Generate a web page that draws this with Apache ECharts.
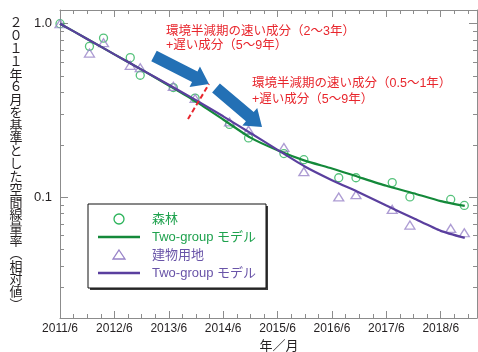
<!DOCTYPE html>
<html>
<head>
<meta charset="utf-8">
<script src="https://cdn.jsdelivr.net/npm/echarts@6/dist/echarts.min.js"></script>
<style>
  html, body { margin: 0; padding: 0; background: #ffffff; }
  #chart { width: 478px; height: 352px; }
</style>
</head>
<body>
<div id="chart"></div>
<script>
// Survey timing in months after June 2011, shared by both land-use groups
const surveyMonths = [0, 6.5, 9.6, 15.5, 17.7, 25, 29.8, 37.4, 41.6, 49.4, 53.8, 61.5, 65.3, 73.3, 77.2, 86.2, 89.2];
// Relative air dose rate (June 2011 = 1)
const forestValues = [1.0, 0.74, 0.826, 0.637, 0.504, 0.428, 0.372, 0.262, 0.219, 0.178, 0.164, 0.129, 0.129, 0.121, 0.100, 0.0967, 0.0893];
const builtValues  = [1.0, 0.677, 0.777, 0.575, 0.557, 0.435, 0.37, 0.271, 0.243, 0.193, 0.14, 0.1, 0.103, 0.0847, 0.0688, 0.0658, 0.0621];

// Two-group model curves
const modelMonths = [0, 6, 12, 18, 24, 30, 36, 42, 48, 54, 60, 66, 72, 78, 84, 89.3];
const forestModel = [1.0, 0.817, 0.665, 0.543, 0.44, 0.355, 0.28, 0.22, 0.186, 0.162, 0.146, 0.130, 0.116, 0.105, 0.0946, 0.0887];
const builtModel  = [1.0, 0.817, 0.665, 0.543, 0.444, 0.362, 0.292, 0.234, 0.187, 0.150, 0.125, 0.106, 0.0891, 0.0753, 0.0637, 0.058];

// Axis ticks
const yearTickMonths = [0, 12, 24, 36, 48, 60, 72, 84];
const yearLabels = ['2011/6', '2012/6', '2013/6', '2014/6', '2015/6', '2016/6', '2017/6', '2018/6'];
const quarterTickMonths = [0, 3, 6, 9, 12, 15, 18, 21, 24, 27, 30, 33, 36, 39, 42, 45, 48, 51, 54, 57, 60, 63, 66, 69, 72, 75, 78, 81, 84, 87, 90];
const yMajorTicks = [0.1, 1];
const yMajorLabels = ['0.1', '1.0'];
const yMinorTicks = [0.02, 0.03, 0.04, 0.05, 0.06, 0.07, 0.08, 0.09, 0.2, 0.3, 0.4, 0.5, 0.6, 0.7, 0.8, 0.9];

const FONT = "'Liberation Sans', 'Noto Sans CJK JP', sans-serif";
const AXIS_GRAY = '#8c8c8c';
const INK = '#231f20';
const GREEN_PT = '#2bb35a';
const GREEN_LINE = '#14893a';
const GREEN_TEXT = '#1fa24e';
const PURPLE_PT = '#9883c8';
const PURPLE_LINE = '#5a3f9e';
const PURPLE_TEXT = '#6954a8';
const RED = '#e8262d';
const BLUE = '#2370b5';

const X_MIN = 0, X_MAX = 92;
const Y_MIN = 0.02, Y_MAX = 1.2;

function xAxisDef(position, ticks, len, main) {
  return {
    type: 'value', position: position, min: X_MIN, max: X_MAX,
    axisLine: { show: main, onZero: false, lineStyle: { color: AXIS_GRAY, width: 1 } },
    axisTick: { show: true, inside: true, length: len, customValues: ticks, lineStyle: { color: AXIS_GRAY, width: 1 } },
    axisLabel: (main && position === 'bottom') ? {
      show: true, customValues: yearTickMonths, margin: 5, color: INK, fontSize: 12, fontFamily: FONT,
      formatter: function (v) { const i = yearTickMonths.indexOf(v); return i >= 0 ? yearLabels[i] : ''; }
    } : { show: false },
    splitLine: { show: false }
  };
}

function yAxisDef(position, ticks, len, main) {
  return {
    type: 'log', logBase: 10, position: position, min: Y_MIN, max: Y_MAX,
    axisLine: { show: main, onZero: false, lineStyle: { color: AXIS_GRAY, width: 1 } },
    axisTick: { show: true, inside: true, length: len, customValues: ticks, lineStyle: { color: AXIS_GRAY, width: 1 } },
    axisLabel: (main && position === 'left') ? {
      show: true, customValues: yMajorTicks, margin: 8, color: INK, fontSize: 13, fontFamily: FONT,
      formatter: function (v) {
        let best = 0;
        yMajorTicks.forEach(function (t, i) { if (Math.abs(t - v) < Math.abs(yMajorTicks[best] - v)) best = i; });
        return yMajorLabels[best];
      }
    } : { show: false },
    splitLine: { show: false },
    minorTick: { show: false }
  };
}

function zip(xs, ys) { return xs.map(function (x, i) { return [x, ys[i]]; }); }

// Block arrow polygon from tail centre to tip
function arrowPoints(tail, tip, shaftHalf, headHalf, headLen) {
  const dx = tip[0] - tail[0], dy = tip[1] - tail[1];
  const L = Math.sqrt(dx * dx + dy * dy);
  const ux = dx / L, uy = dy / L, nx = -uy, ny = ux;
  const hx = tip[0] - ux * headLen, hy = tip[1] - uy * headLen;
  return [
    [tail[0] + nx * shaftHalf, tail[1] + ny * shaftHalf],
    [hx + nx * shaftHalf, hy + ny * shaftHalf],
    [hx + nx * headHalf, hy + ny * headHalf],
    [tip[0], tip[1]],
    [hx - nx * headHalf, hy - ny * headHalf],
    [hx - nx * shaftHalf, hy - ny * shaftHalf],
    [tail[0] - nx * shaftHalf, tail[1] - ny * shaftHalf]
  ];
}

const yTitle = '２０１１年６月を基準とした空間線量率︵相対値︶'.split('').join('\n');

const chart = echarts.init(document.getElementById('chart'), null, { renderer: 'canvas' });

chart.setOption({
  animation: false,
  backgroundColor: '#ffffff',
  grid: { left: 60, right: 1, top: 10, bottom: 34, containLabel: false },
  xAxis: [
    xAxisDef('bottom', yearTickMonths, 7, true),
    xAxisDef('bottom', quarterTickMonths, 4, false),
    xAxisDef('top', yearTickMonths, 7, true),
    xAxisDef('top', quarterTickMonths, 4, false)
  ],
  yAxis: [
    yAxisDef('left', yMajorTicks, 8, true),
    yAxisDef('left', yMinorTicks, 4, false),
    yAxisDef('right', yMajorTicks, 8, true),
    yAxisDef('right', yMinorTicks, 4, false)
  ],
  series: [
    {
      name: '森林', type: 'scatter', xAxisIndex: 0, yAxisIndex: 0, z: 2,
      data: zip(surveyMonths, forestValues),
      symbol: 'circle', symbolSize: 8,
      itemStyle: { color: 'rgba(255,255,255,0)', borderColor: GREEN_PT, borderWidth: 1.3 }
    },
    {
      name: '建物用地', type: 'scatter', xAxisIndex: 0, yAxisIndex: 0, z: 2,
      data: zip(surveyMonths, builtValues),
      symbol: 'triangle', symbolSize: [10, 8],
      itemStyle: { color: 'rgba(255,255,255,0)', borderColor: PURPLE_PT, borderWidth: 1.3 }
    },
    {
      name: '森林 Two-group モデル', type: 'line', xAxisIndex: 0, yAxisIndex: 0, z: 3,
      data: zip(modelMonths, forestModel),
      showSymbol: false, symbol: 'none', smooth: 0.2,
      lineStyle: { color: GREEN_LINE, width: 2.2 }
    },
    {
      name: '建物用地 Two-group モデル', type: 'line', xAxisIndex: 0, yAxisIndex: 0, z: 4,
      data: zip(modelMonths, builtModel),
      showSymbol: false, symbol: 'none', smooth: 0.2,
      lineStyle: { color: PURPLE_LINE, width: 2.2 }
    }
  ],
  graphic: [
    // vertical axis title
    { type: 'text', x: 16, y: 17.5, z: 10,
      style: { text: yTitle, fontSize: 13, lineHeight: 12.8, fontFamily: FONT, fill: INK, align: 'center', verticalAlign: 'top' } },
    // horizontal axis title
    { type: 'text', x: 279, y: 346, z: 10,
      style: { text: '年／月', fontSize: 13, fontFamily: FONT, fill: INK, align: 'center', verticalAlign: 'middle' } },

    // legend box with drop shadow
    { type: 'rect', z: 20, shape: { x: 90, y: 206, width: 178, height: 84 }, style: { fill: '#3a3a3a' } },
    { type: 'rect', z: 21, shape: { x: 88, y: 204, width: 178, height: 84 }, style: { fill: '#ffffff', stroke: '#111111', lineWidth: 1 } },
    { type: 'circle', z: 22, shape: { cx: 119, cy: 219, r: 5 }, style: { fill: 'none', stroke: GREEN_PT, lineWidth: 1.3 } },
    { type: 'line', z: 22, shape: { x1: 98, y1: 237, x2: 140, y2: 237 }, style: { stroke: GREEN_LINE, lineWidth: 2.3 } },
    { type: 'polygon', z: 22, shape: { points: [[119, 250], [125, 259], [113, 259]] }, style: { fill: 'none', stroke: PURPLE_PT, lineWidth: 1.3 } },
    { type: 'line', z: 22, shape: { x1: 98, y1: 273, x2: 140, y2: 273 }, style: { stroke: PURPLE_LINE, lineWidth: 2.3 } },
    { type: 'text', z: 22, x: 152, y: 219, style: { text: '森林', fontSize: 13, fontFamily: FONT, fill: GREEN_TEXT, verticalAlign: 'middle' } },
    { type: 'text', z: 22, x: 152, y: 237, style: { text: 'Two-group モデル', fontSize: 13, fontFamily: FONT, fill: GREEN_TEXT, verticalAlign: 'middle' } },
    { type: 'text', z: 22, x: 152, y: 255, style: { text: '建物用地', fontSize: 13, fontFamily: FONT, fill: PURPLE_TEXT, verticalAlign: 'middle' } },
    { type: 'text', z: 22, x: 152, y: 273, style: { text: 'Two-group モデル', fontSize: 13, fontFamily: FONT, fill: PURPLE_TEXT, verticalAlign: 'middle' } },

    // annotations: decay components
    { type: 'text', z: 15, x: 166, y: 32, style: { text: '環境半減期の速い成分（2～3年）', fontSize: 12.5, fontFamily: FONT, fill: RED, verticalAlign: 'middle' } },
    { type: 'text', z: 15, x: 166, y: 46, style: { text: '+遅い成分（5～9年）', fontSize: 12.5, fontFamily: FONT, fill: RED, verticalAlign: 'middle' } },
    { type: 'text', z: 15, x: 252, y: 84, style: { text: '環境半減期の速い成分（0.5～1年）', fontSize: 12.5, fontFamily: FONT, fill: RED, verticalAlign: 'middle' } },
    { type: 'text', z: 15, x: 252, y: 100, style: { text: '+遅い成分（5～9年）', fontSize: 12.5, fontFamily: FONT, fill: RED, verticalAlign: 'middle' } },

    // block arrows along the two phases
    { type: 'polygon', z: 15, shape: { points: arrowPoints([154, 56], [209, 84], 6, 11.5, 16) }, style: { fill: BLUE } },
    { type: 'polygon', z: 15, shape: { points: arrowPoints([216, 88], [262, 127], 6, 11.5, 16) }, style: { fill: BLUE } },

    // boundary between the two phases
    { type: 'line', z: 16, shape: { x1: 188, y1: 119, x2: 209, y2: 84 }, style: { stroke: RED, lineWidth: 2, lineDash: [5, 3] } }
  ]
});
</script>
</body>
</html>
